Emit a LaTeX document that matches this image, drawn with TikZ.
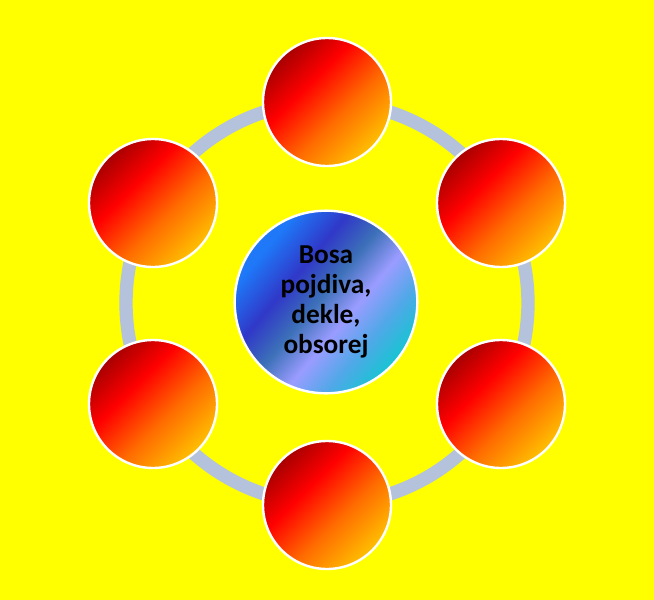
\documentclass[tikz,border=0pt]{standalone}
\usepackage{fontspec}
\setmainfont{Carlito}
\usepackage{tikz}

\definecolor{bgyellow}{HTML}{FFFF00}
\definecolor{ringblue}{HTML}{B4C2DC}
\definecolor{ballone}{HTML}{A80000}
\definecolor{balltwo}{HTML}{FF0000}
\definecolor{ballthree}{HTML}{FF6A00}
\definecolor{ballfour}{HTML}{FFC400}
\definecolor{hubone}{HTML}{1E78F8}
\definecolor{hubtwo}{HTML}{3038C8}
\definecolor{hubthree}{HTML}{3C70B8}
\definecolor{hubfour}{HTML}{9A9CFF}
\definecolor{hubfive}{HTML}{50A8E8}
\definecolor{hubsix}{HTML}{10C8D0}

\pgfdeclarehorizontalshading{ballshade}{100bp}{color(0bp)=(ballone); color(25bp)=(ballone);
  color(40bp)=(balltwo); color(57bp)=(ballthree); color(76bp)=(ballfour); color(100bp)=(ballfour)}
\pgfdeclarehorizontalshading{hubshade}{100bp}{color(0bp)=(hubone); color(28bp)=(hubone);
  color(39bp)=(hubtwo); color(48bp)=(hubthree); color(57bp)=(hubfour); color(66bp)=(hubfive);
  color(76bp)=(hubsix); color(100bp)=(hubsix)}

\tikzset{
  ball/.style={circle, draw=white, line width=1.8pt, minimum size=96pt, inner sep=0,
    shading=ballshade, shading angle=-45},
  hub/.style={circle, draw=white, line width=1.8pt, minimum size=137pt, inner sep=0,
    shading=hubshade, shading angle=-40, align=center, font=\fontsize{20.5}{22.5}\selectfont\bfseries},
}

\begin{document}
\begin{tikzpicture}[x=0.75pt, y=-0.75pt]
            \fill[bgyellow] (0, 0) rectangle (654, 600);
            \useasboundingbox (0, 0) rectangle (654, 600);

            \coordinate (mid) at (327, 303);
            \draw[ringblue, line width=10pt] (mid) circle[radius=201];

            \node[ball] (top) at (327, 102) {};
            \node[ball] (upright) at (501, 203) {};
            \node[ball] (downright) at (501, 404) {};
            \node[ball] (bottom) at (327, 505) {};
            \node[ball] (downleft) at (153, 404) {};
            \node[ball] (upleft) at (153, 203) {};

            \node[hub] (centre) at (326, 302) {Bosa\\pojdiva,\\dekle,\\obsorej};
\end{tikzpicture}
\end{document}
